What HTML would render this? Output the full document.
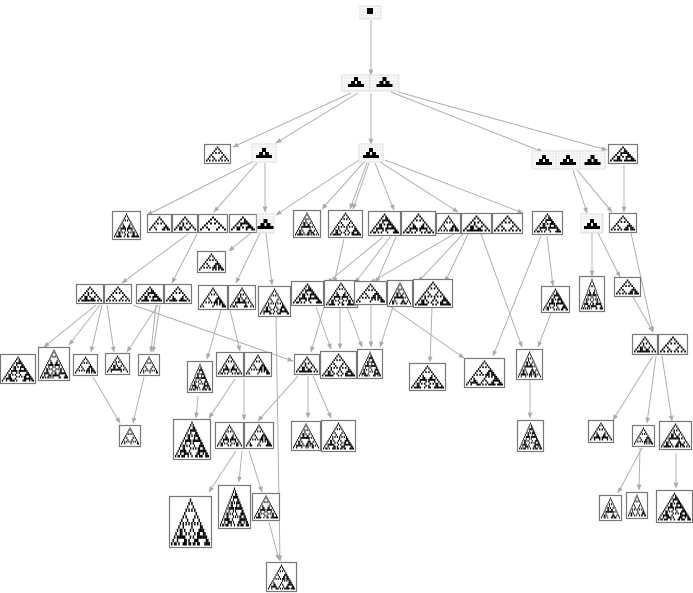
<!DOCTYPE html>
<html><head><meta charset="utf-8"><style>
html,body{margin:0;padding:0;background:#fff;width:693px;height:593px;overflow:hidden}
svg{display:block}
</style></head><body>
<svg id="s" width="693" height="593" viewBox="0 0 693 593" xmlns="http://www.w3.org/2000/svg">
<defs><marker id="a" viewBox="0 0 10 10" refX="9" refY="5" markerWidth="6" markerHeight="6" orient="auto"><path d="M0,1 L10,5 L0,9 z" fill="#aaa"/></marker></defs>
<g id="e" stroke="#b0b0b0" stroke-width="1" fill="none"></g>
<g id="n"></g>
</svg>
<script>
var E=[[371,20,371,75],[351,93,233,147],[358,93,276,143],[371,93,371,144],[391,92,543,152],[398,92,607,150],
[252,162,147,215],[257,163,214,212],[265,163,265,212],[251,233,229,251],[260,233,236,283],[266,233,272,285],
[359,160,276,215],[364,162,322,209],[367,163,350,209],[369,163,353,209],[375,163,394,210],[380,162,458,212],[385,160,523,213],
[573,170,587,213],[577,170,612,212],[624,165,624,212],
[188,234,122,283],[197,234,172,283],[344,239,334,283],[383,237,327,283],[390,237,355,283],[396,237,376,283],
[454,234,370,283],[463,234,418,282],[468,234,445,282],[481,234,522,347],[541,236,493,356],[547,236,553,286],
[592,233,592,276],[598,233,620,277],[631,233,653,332],[633,297,653,332],
[96,305,44,347],[100,305,69,345],[102,305,91,352],[107,305,114,352],[158,305,127,352],[160,305,153,352],[156,305,151,352],[133,305,293,361],
[93,377,120,423],[144,377,133,423],[221,310,207,359],[230,310,240,351],[276,317,280,561],
[324,307,311,352],[316,307,331,349],[340,308,340,349],[347,307,362,347],[371,305,371,347],[393,307,380,347],[391,307,464,358],[432,308,430,362],
[551,313,538,347],[653,356,613,420],[656,356,647,423],[662,356,672,421],[530,380,530,418],
[235,379,209,418],[244,379,244,420],[198,396,196,418],[298,376,258,421],[308,376,308,418],[313,376,331,418],
[236,451,209,492],[242,451,239,482],[249,451,262,492],[269,522,279,560],[642,448,618,493],[640,448,639,490],[676,453,676,488]];
var eg=document.getElementById('e'),ns='http://www.w3.org/2000/svg';
E.forEach(function(l){var p=document.createElementNS(ns,'line');p.setAttribute('x1',l[0]);p.setAttribute('y1',l[1]);p.setAttribute('x2',l[2]);p.setAttribute('y2',l[3]);p.setAttribute('marker-end','url(#a)');eg.appendChild(p);});
var N=[[360,6,381,19,'t'],[342,75,370,91,'g'],[370,75,399,91,'g'],
[204,144,231,164,'b'],[252,144,276,162,'g'],[359,144,383,162,'g'],[532,151,556,169,'g'],[556,151,580,169,'g'],[580,151,605,169,'g'],[608,144,638,164,'b'],
[112,211,141,240,'b'],[147,214,172,233,'b'],[172,214,198,233,'b'],[198,214,228,233,'b'],[229,214,257,233,'b'],[257,214,274,233,'g'],
[197,251,226,273,'b'],[293,210,321,238,'b'],[328,210,363,238,'b'],[368,211,401,236,'b'],[401,211,436,236,'b'],[436,213,461,234,'b'],[461,213,492,234,'b'],[492,213,523,234,'b'],[532,211,563,235,'b'],[581,214,603,233,'g'],[609,213,637,233,'b'],
[76,284,104,304,'b'],[104,284,132,304,'b'],[136,284,164,304,'b'],[164,284,192,304,'b'],[198,285,228,310,'b'],[228,285,256,310,'b'],[258,286,291,317,'b'],
[291,281,324,306,'b'],[324,280,358,308,'b'],[354,281,387,305,'b'],[387,280,413,307,'b'],[413,279,453,308,'b'],[541,286,570,313,'b'],[579,276,605,312,'b'],[614,277,641,297,'b'],
[632,334,658,355,'b'],[658,334,688,355,'b'],
[0,354,36,384,'b'],[38,347,70,381,'b'],[73,354,98,376,'b'],[105,353,130,375,'b'],[138,354,160,376,'b'],
[187,361,213,393,'b'],[216,352,244,377,'b'],[244,352,272,377,'b'],[294,354,320,375,'b'],[320,351,357,379,'b'],[357,349,383,379,'b'],
[409,363,446,391,'b'],[464,358,505,388,'b'],[516,349,543,380,'b'],
[119,425,141,447,'b'],[173,419,211,460,'b'],[215,422,244,449,'b'],[244,422,274,449,'b'],[291,421,321,451,'b'],[321,420,356,452,'b'],[517,420,544,452,'b'],
[588,420,614,443,'b'],[632,425,655,447,'b'],[659,421,692,450,'b'],
[169,496,212,548,'b'],[218,485,251,529,'b'],[252,493,280,521,'b'],[266,562,297,592,'b'],
[599,495,622,521,'b'],[626,492,648,519,'b'],[656,490,693,523,'b']];
var ng=document.getElementById('n');
function el(t,a){var e=document.createElementNS(ns,t);for(var k in a)e.setAttribute(k,a[k]);ng.appendChild(e);return e;}
N.forEach(function(n,i){var x=n[0],y=n[1],w=n[2]-n[0],h=n[3]-n[1],t=n[4];
 if(t=='b'){el('rect',{x:x+.5,y:y+.5,width:w-1,height:h-1,fill:'#fff',stroke:'#777','stroke-width':1.2});}
 else{el('rect',{x:x,y:y,width:w,height:h,fill:'#fff',stroke:'#ccc','stroke-width':.6});
  for(var gx=x;gx<x+w;gx+=3)el('line',{x1:gx,y1:y,x2:gx,y2:y+h,stroke:'#ddd','stroke-width':.5});
  for(var gy=y;gy<y+h;gy+=3)el('line',{x1:x,y1:gy,x2:x+w,y2:gy,stroke:'#ddd','stroke-width':.5});}
 if(t=='t'){el('rect',{x:x+7,y:y+2,width:6,height:6,fill:'#000'});return;}
 if(t=='g'){var cx=x+w/2,by=y+h-5;
  el('rect',{x:cx-2,y:by-9,width:4,height:4,fill:'#000'});
  el('rect',{x:cx-5,y:by-5,width:4,height:5,fill:'#000'});
  el('rect',{x:cx+1,y:by-5,width:4,height:5,fill:'#000'});
  el('rect',{x:cx-8,y:by-2,width:16,height:3,fill:'#000'});
  return;}
 var rows=Math.max(5,Math.min(14,Math.floor((h-4)/2)));
 var py=(h-5)/rows, cx=x+w/2, pw=Math.min(py,(w-4)/(2*rows-1));
 var row=[1];
 for(var r=0;r<rows;r++){
  for(var j=0;j<row.length;j++){ if(row[j]){
    var px=cx+(j-(row.length-1)/2)*pw-pw/2;
    el('rect',{x:px,y:y+2.5+r*py,width:pw,height:py,fill:'#000'});}}
  var nr=[];for(var j=0;j<row.length+2;j++){var l=row[j-2]||0,c=row[j-1]||0,rr=row[j]||0;
   nr.push((l^rr)|((i+r)%5==0&&c&&j%3==0?1:0));}
  row=nr;}
});
</script>
</body></html>
